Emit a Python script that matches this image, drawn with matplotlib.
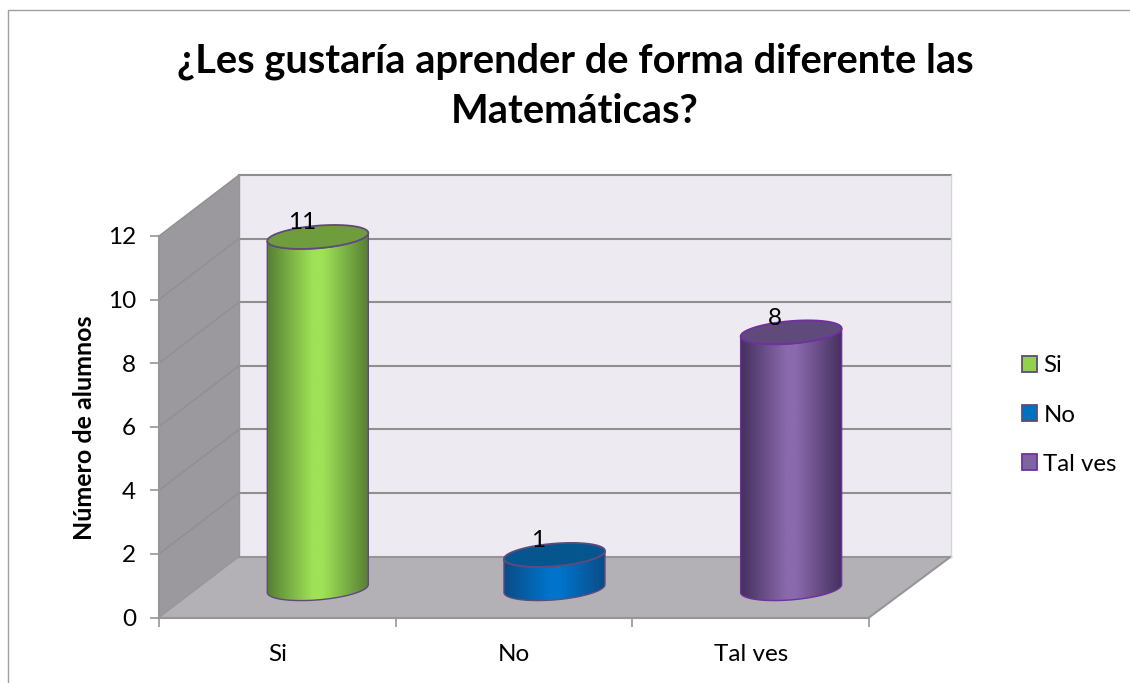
import matplotlib.pyplot as plt
import matplotlib as mpl
import numpy as np
from matplotlib.colors import LinearSegmentedColormap
from matplotlib.patches import Patch, Polygon
from matplotlib.lines import Line2D

mpl.rcParams["font.family"] = ["Lato", "DejaVu Sans"]

categories = ["Si", "No", "Tal ves"]
values = [11, 1, 8]
y_ticks = [0, 2, 4, 6, 8, 10, 12]

C_GRID = "#8F8F8F"
C_WALL = "#EDEBF1"
C_SIDE = "#9B999E"
C_FLOOR = "#B3B1B6"
C_EDGE = "#969696"
# edge, middle of the body, top ellipse, outline, legend swatch
C_BODY = [("#567F33", "#9FE257", "#6F9C3C", "#604A7B", "#92D050"),
          ("#0A4C86", "#0074CC", "#05558F", "#604A7B", "#0070C0"),
          ("#45315F", "#8A69AC", "#604A7B", "#7030A0", "#8064A2")]

W, H = 1130, 683
PX_X = 710 / 3      # pixels per category
PX_Y = 381.5 / 12   # pixels per unit
DX = 80 / PX_X      # 3D depth offset in data units
DY = 61 / PX_Y
A, B, K = 50.5 / PX_X, 11.3 / PX_Y, 4 / PX_Y   # sheared ellipse of the cylinders


def ellipse(cx, cy, t):
    return cx + A * np.cos(t), cy + B * np.sin(t) + K * np.cos(t)


def cylinder(ax, i, v, colors):
    dark, light, top, line, _ = colors
    cx, y0, y1 = i + DX / 2 + 0.002, DY / 2 - 0.05, v + DY / 2 + 0.01
    t_low = np.linspace(np.pi, 2 * np.pi, 60)
    xb, yb = ellipse(cx, y0, t_low)
    xt, yt = ellipse(cx, y1, t_low[::-1])
    xs, ys = np.r_[xb, xt], np.r_[yb, yt]

    cmap = LinearSegmentedColormap.from_list(
        "b", [(0, dark), (0.45, light), (0.55, light), (1, dark)], N=256)
    grad = cmap(np.linspace(0, 1, 200))
    im = ax.imshow(grad[np.newaxis, :, :], aspect="auto", zorder=5,
                   extent=(cx - A, cx + A, y0 - B * 2, y1 + B * 2))
    body = Polygon(np.c_[xs, ys], closed=True, fc="none", ec=line, lw=1.0,
                   zorder=6, clip_on=False)
    ax.add_patch(body)
    im.set_clip_path(body)

    xe, ye = ellipse(cx, y1, np.linspace(0, 2 * np.pi, 120))
    ax.add_patch(Polygon(np.c_[xe, ye], closed=True, fc=top, ec=line, lw=1.3,
                         zorder=7, clip_on=False))
    ax.annotate(str(v), (cx, y1), xytext=(-16, 14), textcoords="offset pixels",
                ha="center", va="center", fontsize=17.5, color="black",
                zorder=8, annotation_clip=False)


def draw():
    fig = plt.figure(figsize=(W / 100, H / 100), dpi=100, facecolor="white")
    ax = fig.add_axes([159 / W, 1 - 617.5 / H, 710 / W, 381.5 / H])
    ax.patch.set_visible(False)

    # page frame round the chart
    fig.add_artist(Line2D([8 / W, 8 / W, 1], [0, 1 - 10 / H, 1 - 10 / H],
                          color="#A0A0A0", lw=1.0))

    x0, x1 = -0.5, 2.5
    xb = x1 + DX + 2 / PX_X     # back wall runs a touch wider
    top = y_ticks[-1]

    # walls and floor of the 3D box
    ax.add_patch(Polygon([(x0 + DX, DY), (xb, DY), (xb, top + DY), (x0 + DX, top + DY)],
                         fc=C_WALL, ec="none", zorder=1, clip_on=False))
    ax.add_patch(Polygon([(x0, 0), (x0 + DX, DY), (x0 + DX, top + DY), (x0, top)],
                         fc=C_SIDE, ec="none", zorder=1, clip_on=False))
    ax.add_patch(Polygon([(x0, 0), (x1, 0), (xb, DY), (x0 + DX, DY)],
                         fc=C_FLOOR, ec="none", zorder=1, clip_on=False))

    for t in y_ticks[1:]:
        ax.plot([x0 + DX, xb], [t + DY, t + DY], color=C_GRID, lw=1.5,
                zorder=2, clip_on=False)
        ax.plot([x0, x0 + DX], [t, t + DY], color=C_GRID, lw=1.0, zorder=2,
                clip_on=False)
    ax.plot([x0 + DX, xb], [DY, DY], color=C_EDGE, lw=1.5, zorder=2, clip_on=False)
    ax.plot([x0, x0 + DX], [0, DY], color=C_EDGE, lw=1.0, zorder=2, clip_on=False)
    ax.plot([x0 + DX, x0 + DX], [DY, top + DY], color=C_EDGE, lw=1.0, zorder=2, clip_on=False)
    ax.plot([x1, xb], [0, DY], color=C_EDGE, lw=1.5, zorder=2, clip_on=False)
    ax.plot([xb, xb], [DY, top + DY], color="#D5D4D8", lw=1.0, zorder=2, clip_on=False)

    for i, v in enumerate(values):
        cylinder(ax, i, v, C_BODY[i])

    ax.set_xlim(x0, x1)
    ax.set_ylim(0, top)

    # axes
    for name in ("top", "right"):
        ax.spines[name].set_visible(False)
    for name in ("left", "bottom"):
        ax.spines[name].set_color(C_EDGE)
        ax.spines[name].set_linewidth(1.5)
        ax.spines[name].set_zorder(3)
    ax.set_yticks(y_ticks)
    ax.set_xticks([x0, 0.5, 1.5, x1])
    ax.set_xticklabels([])
    ax.set_xticks(range(len(categories)), categories, minor=True)
    ax.tick_params(axis="x", which="minor", length=0, pad=19, labelsize=17.5)
    ax.tick_params(axis="x", which="major", length=6.5, width=1.2, color=C_EDGE)
    ax.tick_params(axis="y", length=6.5, width=1.2, color=C_EDGE, pad=10,
                   labelsize=17.5)
    fig.text(85 / W, 1 - 428 / H, "Número de alumnos", rotation=90, ha="center",
             va="center", fontsize=18, fontweight="bold", color="black")

    fig.text(575 / W, 1 - 86 / H, "¿Les gustaría aprender de forma diferente las\nMatemáticas?",
             ha="center", va="center", fontsize=28.7, fontweight="bold",
             color="black", linespacing=1.45)

    handles = [Patch(fc=c[4], ec=c[3], lw=1.3, label=n) for c, n in zip(C_BODY, categories)]
    fig.legend(handles=handles, loc="center left", bbox_to_anchor=(1022 / W, 1 - 415 / H),
               frameon=False, fontsize=17.3, handlelength=0.62, handleheight=0.62,
               handletextpad=0.27, labelspacing=1.17, borderpad=0, borderaxespad=0)

    fig.savefig("out.png", dpi=100, facecolor="white")
    plt.close(fig)


if __name__ == "__main__":
    draw()
